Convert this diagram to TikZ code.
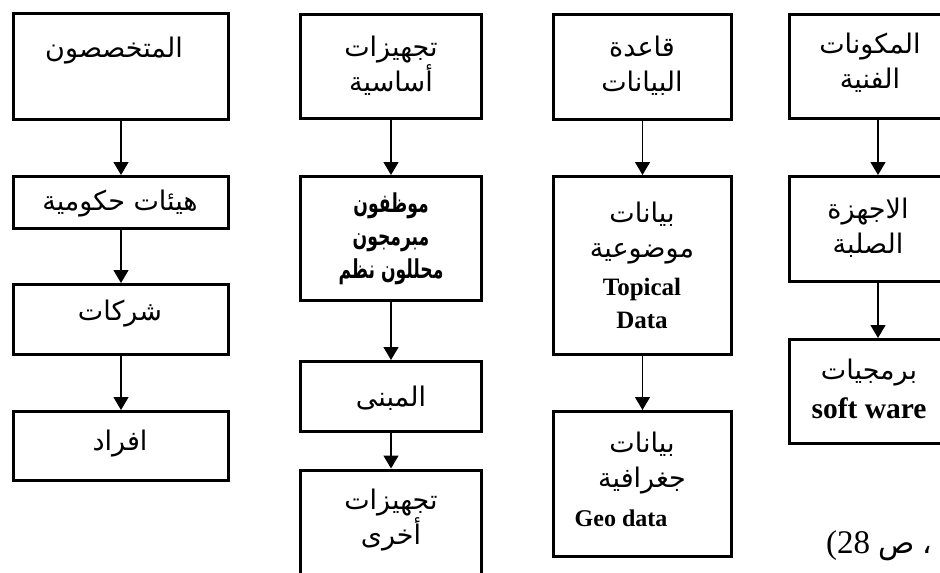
\documentclass[tikz,border=0pt]{standalone}
\usepackage{fontspec}
\setmainfont{Liberation Serif}
\newfontfamily\arabicfont[Script=Arabic]{DejaVu Sans}
\usetikzlibrary{arrows.meta}
\TeXXeTstate=1
\newcommand\artxt[1]{{\arabicfont\beginR #1\endR}}
\newcommand\narrowtxt[1]{\scalebox{0.66}[1]{\artxt{#1}}}

\begin{document}
\begin{tikzpicture}[x=1pt,y=-1pt,
  box/.style={draw, line width=3pt, inner sep=0pt},
  flow/.style={-{Triangle[width=15pt,length=13pt]}, line width=1.4pt},
  lbl/.style={align=center, inner sep=0pt, font=\fontsize{27}{35}\selectfont},
  bold lbl/.style={align=center, inner sep=0pt, font=\fontsize{26}{33}\selectfont\bfseries},
  latin/.style={align=center, inner sep=0pt, font=\fontsize{25}{33}\selectfont\bfseries}]
\clip (0,0) rectangle (940,573);

% column 1: specialists
\node[box, minimum width=215pt, minimum height=106pt] (b1) at (121,66.5) {};
\node[box, minimum width=215pt, minimum height=52pt]  (b2) at (121,202.5) {};
\node[box, minimum width=215pt, minimum height=70pt]  (b3) at (121,319.5) {};
\node[box, minimum width=215pt, minimum height=69pt]  (b4) at (121,446) {};
\node[lbl] (tb1) at (114,51)  {\artxt{المتخصصون}};
\node[lbl] (tb2) at (120,204) {\artxt{هيئات حكومية}};
\node[lbl] (tb3) at (120,314) {\artxt{شركات}};
\node[lbl] (tb4) at (120,444) {\artxt{افراد}};
\draw[flow] (b1) -- (b2);
\draw[flow] (b2) -- (b3);
\draw[flow] (b3) -- (b4);

% column 2: basic equipment
\node[box, minimum width=181pt, minimum height=104pt] (c1) at (391,66.5) {};
\node[box, minimum width=181pt, minimum height=124pt] (c2) at (391,238.5) {};
\node[box, minimum width=181pt, minimum height=70pt]  (c3) at (391,396.5) {};
\node[box, minimum width=181pt, minimum height=130pt] (c4) at (391,535) {};
\node[lbl] (tc1) at (391,66) {\artxt{تجهيزات}\\\artxt{أساسية}};
\node[bold lbl] (tc2) at (391,239) {\narrowtxt{موظفون}\\\narrowtxt{مبرمجون}\\\narrowtxt{محللون نظم}};
\node[lbl] (tc3) at (391,398) {\artxt{المبنى}};
\node[lbl] (tc4) at (391,520) {\artxt{تجهيزات}\\\artxt{أخرى}};
\draw[flow] (c1) -- (c2);
\draw[flow] (c2) -- (c3);
\draw[flow] (c3) -- (c4);

% column 3: database
\node[box, minimum width=178pt, minimum height=105pt] (d1) at (642.5,67) {};
\node[box, minimum width=178pt, minimum height=178pt] (d2) at (642.5,265.5) {};
\node[box, minimum width=178pt, minimum height=145pt] (d3) at (642.5,484) {};
\node[lbl] (td1) at (642,66) {\artxt{قاعدة}\\\artxt{البيانات}};
\node[lbl] (td2) at (642,233) {\artxt{بيانات}\\\artxt{موضوعية}};
\node[latin] (td2e) at (642,303.5) {Topical\\Data};
\node[lbl] (td3) at (642,463) {\artxt{بيانات}\\\artxt{جغرافية}};
\node[latin, font=\fontsize{24}{28}\selectfont\bfseries] (td3e) at (621,518) {Geo data};
\draw[flow] (d1) -- (d2);
\draw[flow] (d2) -- (d3);

% column 4: technical components
\node[box, minimum width=178pt, minimum height=104pt] (e1) at (878,66.5) {};
\node[box, minimum width=178pt, minimum height=105pt] (e2) at (878,229) {};
\node[box, minimum width=178pt, minimum height=104pt] (e3) at (878,391.5) {};
\node[lbl] (te1) at (870,63) {\artxt{المكونات}\\\artxt{الفنية}};
\node[lbl] (te2) at (868,228) {\artxt{الاجهزة}\\\artxt{الصلبة}};
\node[lbl] (te3) at (869,373) {\artxt{برمجيات}};
\node[latin, font=\fontsize{29.5}{33}\selectfont\bfseries] (te3e) at (869,408) {soft ware};
\draw[flow] (e1) -- (e2);
\draw[flow] (e2) -- (e3);

% source reference
\node[inner sep=0pt, anchor=west, font=\fontsize{33}{40}\selectfont] (src) at (826,546)
  {(28 {\arabicfont\fontsize{30}{36}\selectfont ص} {\arabicfont\fontsize{30}{36}\selectfont ،}};
\end{tikzpicture}
\end{document}
